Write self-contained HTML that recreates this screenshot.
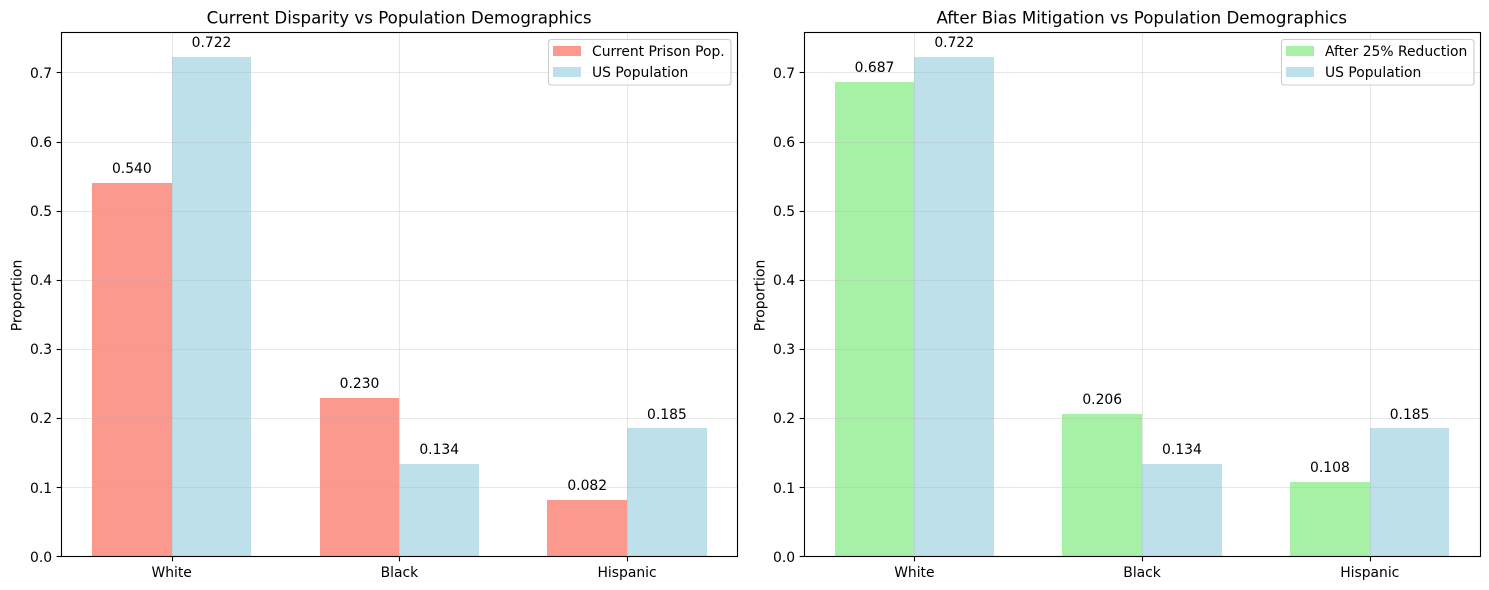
<!DOCTYPE html>
<html lang="en">
<head>
<meta charset="utf-8">
<title>Disparity vs Population Demographics</title>
<style>
html,body{margin:0;padding:0;background:#fff;width:1489px;height:590px;overflow:hidden}
svg{display:block}
text{font-family:"DejaVu Sans","Liberation Sans",sans-serif;fill:#000}
</style>
</head>
<body>
<svg id="fig" xmlns="http://www.w3.org/2000/svg" width="1489" height="590" viewBox="0 0 1489 590"></svg>
<script>
const categories = ["White", "Black", "Hispanic"];
const currentPrison = [0.540, 0.230, 0.082];
const afterReduction = [0.687, 0.206, 0.108];
const usPopulation = [0.7223, 0.134, 0.1853];
const yTicks = [0, 0.1, 0.2, 0.3, 0.4, 0.5, 0.6, 0.7];
const barWidth = 0.35;

const NS = "http://www.w3.org/2000/svg";
const fig = document.getElementById("fig");

function make(parent, tag, attrs, txt) {
  const el = document.createElementNS(NS, tag);
  for (const k in attrs) el.setAttribute(k, attrs[k]);
  if (txt !== undefined) el.textContent = txt;
  parent.appendChild(el);
  return el;
}

function drawPanel(cfg) {
  const L = cfg.plotL, R = cfg.plotR;
  const FL = cfg.frameL, FR = cfg.frameR, FT = 32.5, FB = 556.5;
  const xMin = -0.485, xMax = 2.485;
  const sx = v => L + (v - xMin) / (xMax - xMin) * (R - L);
  const sy = v => 556.5 - v * 691;
  const tickY = v => Math.floor(556.45 - v * 690.7) + 0.5;
  const tickTextY = v => Math.round(561.6 - v * 690.7);

  const g = make(fig, "g", {});
  
  

  // bars
  cfg.seriesA.forEach((v, i) => {
    const x0 = Math.round(sx(i - barWidth)), x1 = Math.round(sx(i)), y0 = Math.round(sy(v));
    const r = make(g, "rect", {x: x0, y: y0, width: x1 - x0, height: 556 - y0, fill: cfg.colorA, "fill-opacity": 0.8});
    
    
  });
  cfg.seriesB.forEach((v, i) => {
    const x0 = Math.round(sx(i)), x1 = Math.round(sx(i + barWidth)), y0 = Math.round(sy(v));
    const r = make(g, "rect", {x: x0, y: y0, width: x1 - x0, height: 556 - y0, fill: "#add8e6", "fill-opacity": 0.8});
    
    
  });

  // grid and ticks
  yTicks.forEach(t => {
    const y = tickY(t);
    if (t > 0) {
      const gl = make(g, "line", {x1: FL, x2: FR, y1: y, y2: y, stroke: "#b0b0b0", "stroke-opacity": 0.3, "stroke-width": 1.11});
      
      
    }
    const tk = make(g, "line", {x1: FL - 4.86, x2: FL, y1: y, y2: y, stroke: "#000", "stroke-width": 1.11});
    
    
    const lb = make(g, "text", {x: FL - 9.4, y: tickTextY(t), "text-anchor": "end", "font-size": 13.89}, t.toFixed(1));
    
    
  });
  categories.forEach((c, i) => {
    const x = Math.round(sx(i)) + 0.5;
    const gl = make(g, "line", {x1: x, x2: x, y1: FT, y2: FB, stroke: "#b0b0b0", "stroke-opacity": 0.3, "stroke-width": 1.11});
    
    
    const tk = make(g, "line", {x1: x, x2: x, y1: FB, y2: FB + 4.86, stroke: "#000", "stroke-width": 1.11});
    
    
    const lb = make(g, "text", {x: sx(i), y: 577, "text-anchor": "middle", "font-size": 13.89}, c);
    
    
  });

  // value labels
  const addValue = (v, x) => {
    const t = make(g, "text", {x: x, y: Math.round(sy(v + 0.01) - 3), "text-anchor": "middle", "font-size": 13.89}, v.toFixed(3));
    
    
  };
  cfg.seriesA.forEach((v, i) => addValue(v, sx(i - barWidth / 2)));
  cfg.seriesB.forEach((v, i) => addValue(v, sx(i + barWidth / 2)));

  // axes frame
  const frame = make(g, "rect", {x: FL, y: FT, width: FR - FL, height: FB - FT, fill: "none", stroke: "#000", "stroke-width": 1.11});
  
  

  // titles
  const title = make(g, "text", {x: (L + R) / 2 - 0.3, y: 23.5, "text-anchor": "middle", "font-size": 16.65}, cfg.title);
  
  
  const yl = make(g, "text", {x: 0, y: 0, "text-anchor": "middle", "font-size": 13.89, transform: "translate(" + (FL - 40) + ",295.5) rotate(-90)"}, "Proportion");
  
  

  // legend
  const lg = make(g, "g", {});
  
  
  const box = make(lg, "rect", {x: cfg.legendX, y: 39.5, width: FR - 6.5 - cfg.legendX, height: 45.5, rx: 2.8, ry: 2.8, fill: "#fff", "fill-opacity": 0.8, stroke: "#ccc", "stroke-width": 1.11});
  
  
  const s1 = make(lg, "rect", {x: cfg.legendX + 4.5, y: 46, width: 28, height: 10, fill: cfg.colorA, "fill-opacity": 0.8});
  
  
  const s2 = make(lg, "rect", {x: cfg.legendX + 4.5, y: 67, width: 28, height: 10, fill: "#add8e6", "fill-opacity": 0.8});
  
  
  const t1 = make(lg, "text", {x: cfg.legendX + 43.5, y: 56, "font-size": 13.89}, cfg.labelA);
  
  
  const t2 = make(lg, "text", {x: cfg.legendX + 43.5, y: 77, "font-size": 13.89}, "US Population");
  
  
}

drawPanel({
  name: "current-disparity-chart", plotL: 61.25, plotR: 737.5, frameL: 61.5, frameR: 737.5,
  title: "Current Disparity vs Population Demographics",
  seriesA: currentPrison, seriesB: usPopulation,
  colorA: "#fa8072", keyA: "current-prison",
  labelA: "Current Prison Pop.", legendX: 548.5
});
drawPanel({
  name: "after-mitigation-chart", plotL: 803.95, plotR: 1480.2, frameL: 804.5, frameR: 1480.5,
  title: "After Bias Mitigation vs Population Demographics",
  seriesA: afterReduction, seriesB: usPopulation,
  colorA: "#90ee90", keyA: "after-reduction",
  labelA: "After 25% Reduction", legendX: 1281.5
});
</script>
</body>
</html>
